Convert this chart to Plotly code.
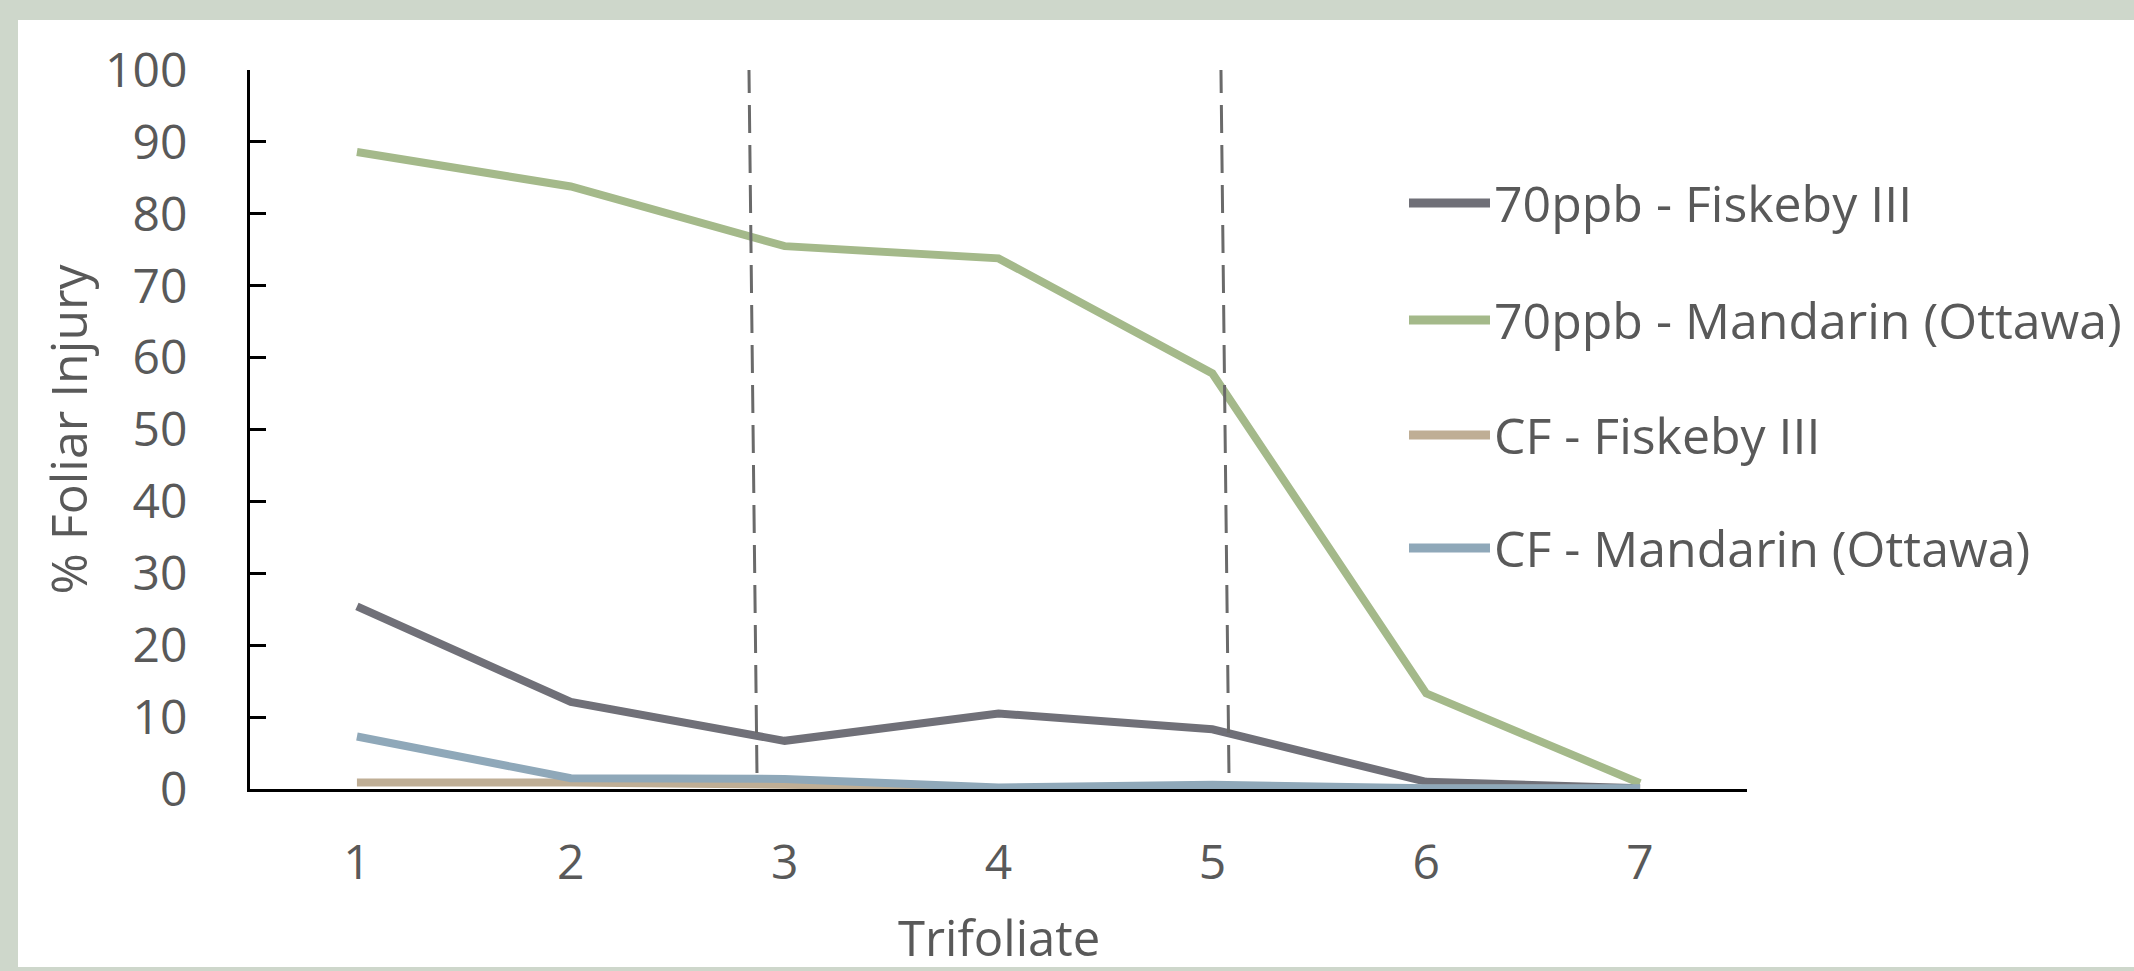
import plotly.graph_objects as go

# Leaf injury by trifoliate position
trifoliate = [1, 2, 3, 4, 5, 6, 7]
tick_labels = ["1", "2", "3", "4", "5", "6", "7"]

fiskeby_70ppb = [25.4, 12.1, 6.7, 10.5, 8.3, 1.0, 0.1]
mandarin_70ppb = [88.6, 83.8, 75.5, 73.8, 57.8, 13.3, 0.8]
fiskeby_cf = [0.9, 0.9, 0.6, 0.1, 0.1, 0.1, 0.0]
mandarin_cf = [7.3, 1.5, 1.4, 0.2, 0.6, 0.1, 0.1]

series_names = [
    "70ppb - Fiskeby III",
    "70ppb - Mandarin (Ottawa)",
    "CF - Fiskeby III",
    "CF - Mandarin (Ottawa)",
]
series_values = [fiskeby_70ppb, mandarin_70ppb, fiskeby_cf, mandarin_cf]
series_colors = ["#707078", "#A4B98A", "#BFAE95", "#8FA8B9"]

W, H = 2134, 971
L, R, T, B = 250, 387, 70, 182
PW, PH = W - L - R, H - T - B
FONT = "Open Sans"
TEXT = "#595959"
FS = 48
LEGEND_FS = 50
TITLE_FS = 50


def px(x):
    return (x - L) / PW


def py(y):
    return (H - B - y) / PH


fig = go.Figure()
for name, vals, col in zip(series_names, series_values, series_colors):
    fig.add_trace(go.Scatter(
        x=trifoliate, y=vals, name=name, mode="lines",
        line=dict(color=col, width=8), showlegend=False, cliponaxis=False,
    ))

shapes = [
    # white card behind the chart
    dict(type="rect", xref="paper", yref="paper", x0=px(18), x1=px(W + 5),
         y0=py(967), y1=py(20), fillcolor="white", line=dict(width=0),
         layer="below"),
    # dashed separators between trifoliate groups
    dict(type="line", xref="x", yref="y", x0=2.833, y0=100.7, x1=2.871, y1=1.2,
         line=dict(color="#6A6A6A", width=3, dash="28px,12px")),
    dict(type="line", xref="x", yref="y", x0=5.040, y0=100.7, x1=5.078, y1=1.2,
         line=dict(color="#6A6A6A", width=3, dash="28px,12px")),
]

annotations = []
legend_rows = [203, 320, 435, 548]
for name, col, ry in zip(series_names, series_colors, legend_rows):
    shapes.append(dict(type="line", xref="paper", yref="paper",
                       x0=px(1409), x1=px(1490), y0=py(ry), y1=py(ry),
                       line=dict(color=col, width=9)))
    annotations.append(dict(xref="paper", yref="paper", x=px(1492), y=py(ry),
                            text=name, showarrow=False, xanchor="left",
                            yanchor="middle",
                            font=dict(family=FONT, size=LEGEND_FS, color=TEXT)))

annotations.append(dict(xref="paper", yref="paper", x=0.5, y=py(971),
                        text="Trifoliate", showarrow=False, xanchor="center",
                        yanchor="bottom", borderpad=0,
                        font=dict(family=FONT, size=49, color=TEXT)))
annotations.append(dict(xref="paper", yref="paper", x=px(67), y=0.5,
                        text="% Foliar Injury", showarrow=False, textangle=-90,
                        xanchor="center", yanchor="middle",
                        font=dict(family=FONT, size=TITLE_FS, color=TEXT)))

fig.update_layout(
    width=W, height=H,
    margin=dict(l=L, r=R, t=T, b=B, pad=0),
    paper_bgcolor="#CED7CB",
    plot_bgcolor="rgba(0,0,0,0)",
    font=dict(family=FONT, size=FS, color=TEXT),
    shapes=shapes,
    annotations=annotations,
    showlegend=False,
    xaxis=dict(
        range=[0.5, 7.5], tickmode="array", tickvals=trifoliate,
        ticktext=tick_labels, ticks="", showgrid=False, zeroline=False,
        showline=True, linecolor="black", linewidth=3,
        ticklabelstandoff=29, tickfont=dict(family=FONT, size=FS, color=TEXT),
    ),
    yaxis=dict(
        range=[0, 100], tickmode="linear", tick0=0, dtick=10,
        ticks="inside", ticklen=16, tickwidth=3, tickcolor="black",
        showgrid=False, zeroline=False, showline=True, linecolor="black",
        linewidth=3, ticklabelstandoff=50,
        tickfont=dict(family=FONT, size=FS, color=TEXT),
    ),
)

fig.write_html("out.html")
